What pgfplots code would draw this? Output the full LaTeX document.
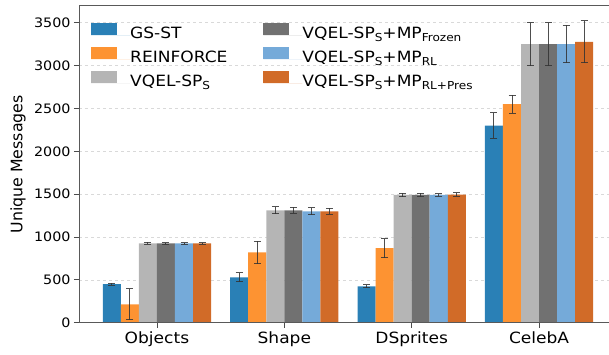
\documentclass[border=0pt]{standalone}
\usepackage{pgfplots}
\pgfplotsset{compat=1.18}
\usepackage{fontspec}
\setmainfont{DejaVu Sans}
\newfontfamily\dv{DejaVu Sans}[FakeStretch=1.1]
\definecolor{c1}{HTML}{2A80B6}
\definecolor{c2}{HTML}{FD9332}
\definecolor{c3}{HTML}{B5B5B5}
\definecolor{c4}{HTML}{717171}
\definecolor{c5}{HTML}{75AAD9}
\definecolor{c6}{HTML}{D16B28}
\newcommand\sub[1]{\raisebox{-0.18em}{\fontsize{11}{12}\selectfont #1}}
\begin{document}
\begin{tikzpicture}
\begin{axis}[
  name=ax,
  scale only axis, width=530pt, height=316.7pt,
  xmin=-0.612, xmax=3.549, ymin=0, ymax=3695,
  ybar, bar width=0.1417,
  xtick={0,1,2,3}, xticklabels={Objects,Shape,DSprites,CelebA},
  ytick={0,500,1000,1500,2000,2500,3000,3500},
  yticklabels={0,500,1000,1500,2000,2500,3000,3500},
  xtick pos=lower, ytick pos=left, tick align=outside,
  major tick length=5pt,
  tick style={black!70, line width=0.8pt},
  xticklabel style={font=\fontsize{15.5}{18}\dv},
  yticklabel style={font=\fontsize{13}{15}\dv},
  ymajorgrids, grid style={dashed, black!15, line width=0.6pt},
  axis line style={draw=none},
  every axis y label/.style={at={(axis description cs:-0.1151,0.5)}, rotate=90, anchor=center, font=\fontsize{15.8}{18}\selectfont},
  ylabel={Unique Messages},
  error bars/y dir=both, error bars/y explicit,
  error bars/error bar style={black!80, line width=1pt, opacity=0.85},
  error bars/error mark options={rotate=90, mark size=3.5pt, line width=1pt, black!80, opacity=0.85},
  legend columns=3, transpose legend,
  legend cell align=left,
  legend style={draw=none, fill=none, at={(0.0226,0.946)}, anchor=north west,
    font=\fontsize{15.5}{18}\dv, inner sep=0pt, row sep=4.5pt,
    nodes={inner sep=0pt, text height=11pt, text depth=4pt},
    /tikz/every even column/.append style={column sep=36pt}},
  legend image code/.code={\fill[#1] (0pt,0pt) rectangle (26pt,12pt); \path (0pt,0pt) -- (39pt,0pt);},
]
\addplot[fill=c1, draw=none, bar shift=-0.354] coordinates {
  (0,450) +- (0,12) (1,530) +- (0,55) (2,425) +- (0,15) (3,2300) +- (0,150)};
\addlegendentry{GS-ST}
\addplot[fill=c2, draw=none, bar shift=-0.2125] coordinates {
  (0,215) +- (0,180) (1,820) +- (0,130) (2,870) +- (0,110) (3,2550) +- (0,105)};
\addlegendentry{REINFORCE}
\addplot[fill=c3, draw=none, bar shift=-0.0708] coordinates {
  (0,925) +- (0,12) (1,1310) +- (0,40) (2,1490) +- (0,20) (3,3250) +- (0,250)};
\addlegendentry{VQEL-SP\sub{S}}
\addplot[fill=c4, draw=none, bar shift=0.0708] coordinates {
  (0,925) +- (0,10) (1,1310) +- (0,35) (2,1490) +- (0,20) (3,3250) +- (0,250)};
\addlegendentry{VQEL-SP\sub{S}+MP\sub{Frozen}}
\addplot[fill=c5, draw=none, bar shift=0.2125] coordinates {
  (0,925) +- (0,10) (1,1300) +- (0,40) (2,1490) +- (0,15) (3,3250) +- (0,220)};
\addlegendentry{VQEL-SP\sub{S}+MP\sub{RL}}
\addplot[fill=c6, draw=none, bar shift=0.354] coordinates {
  (0,925) +- (0,10) (1,1300) +- (0,35) (2,1495) +- (0,20) (3,3275) +- (0,245)};
\addlegendentry{VQEL-SP\sub{S}+MP\sub{RL+Pres}}
\end{axis}
\draw[black!65, line width=1pt] (ax.north east) -- (ax.north west) -- (ax.south west) -- (ax.south east);
\pgfresetboundingbox
\path[use as bounding box] ([shift={(-79pt,-31.3pt)}]ax.south west) rectangle ([shift={(0pt,6pt)}]ax.north east);
\end{tikzpicture}
\end{document}
